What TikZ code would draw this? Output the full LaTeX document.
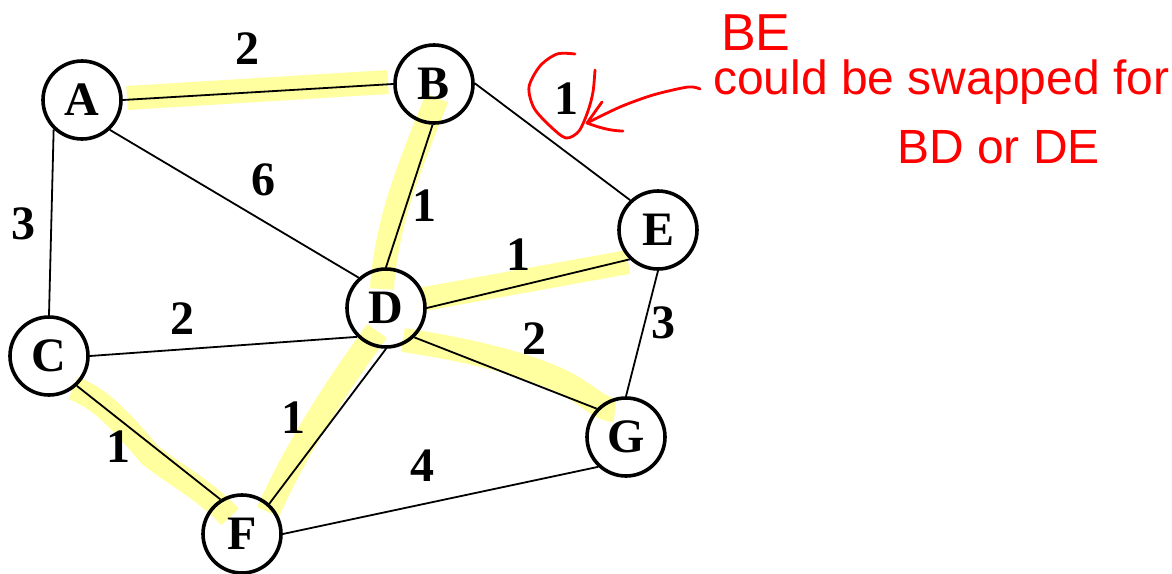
\documentclass[tikz,border=0pt]{standalone}
\usepackage{fontspec}
\setmainfont{Liberation Serif}
\newfontfamily\handfont{Liberation Sans}
\begin{document}
\begin{tikzpicture}[x=1pt,y=-1pt,
  vert/.style={circle,draw=black,line width=3.6pt,minimum size=78pt,inner sep=0pt,
    font=\fontsize{48}{48}\selectfont\bfseries},
  edge/.style={draw=black,line width=1.8pt},
  wt/.style={font=\fontsize{48}{48}\selectfont\bfseries,inner sep=0pt},
  hilite/.style={draw={rgb,255:red,255;green,255;blue,160},line width=24pt,line cap=butt},
  redpen/.style={draw=red,line width=2.8pt,line cap=round,line join=round},
  redtext/.style={text=red,inner sep=0pt,anchor=base west,font=\handfont\fontsize{48}{48}\selectfont}]
\useasboundingbox (0,0) rectangle (1172,573);
% highlighter strokes
\draw[hilite] (127,98) -- (388,82);
\draw[hilite] (437,98) .. controls (420,140) and (400,190) .. (392,225) .. controls (386,250) and (383,270) .. (382,289);
\draw[hilite] (424,299) -- (628,262);
\draw[hilite] (403,340) .. controls (470,350) and (530,365) .. (565,383) .. controls (590,396) and (600,410) .. (615,410);
\draw[hilite] (377,331) .. controls (345,375) and (300,440) .. (268,512);
\draw[hilite] (73,388) .. controls (100,398) and (120,420) .. (150,455) .. controls (175,475) and (205,490) .. (230,517);
% vertices
\node[vert] (A) at (82,100) {A};
\node[vert] (B) at (434,84) {B};
\node[vert] (C) at (49,356) {C};
\node[vert] (D) at (386,308) {D};
\node[vert] (E) at (658,230) {E};
\node[vert] (F) at (242,534) {F};
\node[vert] (G) at (626,437) {G};
% edges
\draw[edge] (A.0) -- (B.180);
\draw[edge] (A.226) -- (C.90);
\draw[edge] (A.313) -- (D.132);
\draw[edge] (B.268) -- (D.90);
\draw[edge] (B.1) -- (E.133);
\draw[edge] (C.0) -- (D.225);
\draw[edge] (C.313) -- (F.122);
\draw[edge] (D.0) -- (E.226);
\draw[edge] (D.314) -- (G.136);
\draw[edge] (D.270) -- (F.48);
\draw[edge] (E.270) -- (G.90);
\draw[edge] (F.0) -- (G.227);
% weights
\node[wt] (wAB) at (247,49) {2};
\node[wt] (wAD) at (263,180) {6};
\node[wt] (wAC) at (23,224) {3};
\node[wt] (wBD) at (424,206) {1};
\node[wt] (wBE) at (566,99) {1};
\node[wt] (wCD) at (182,319) {2};
\node[wt] (wDE) at (518,255) {1};
\node[wt] (wDG) at (534,339) {2};
\node[wt] (wEG) at (663,323) {3};
\node[wt] (wCF) at (118,447) {1};
\node[wt] (wDF) at (293,418) {1};
\node[wt] (wFG) at (422,466) {4};
% red annotation
\draw[redpen] plot[smooth] coordinates {(575,54) (557,54) (540,66) (529,87) (534,108) (550,126) (566,138) (579,131) (588,111) (593,92) (595,70)};
\coordinate (tip) at (587,123);
\coordinate (tail) at (700,89);
\draw[redpen] plot[smooth] coordinates {(tail) (688,87) (653,95) (620,107) (tip)};
\draw[redpen] (602,102) -- (tip) .. controls (600,128) and (612,131) .. (623,131);
\node[redtext,font=\handfont\fontsize{52}{52}\selectfont] (be) at (721,50) {BE};
\node[redtext] (swap) at (713,94) {could be swapped for};
\node[redtext] (alt) at (897,163) {BD or DE};
\end{tikzpicture}
\end{document}
